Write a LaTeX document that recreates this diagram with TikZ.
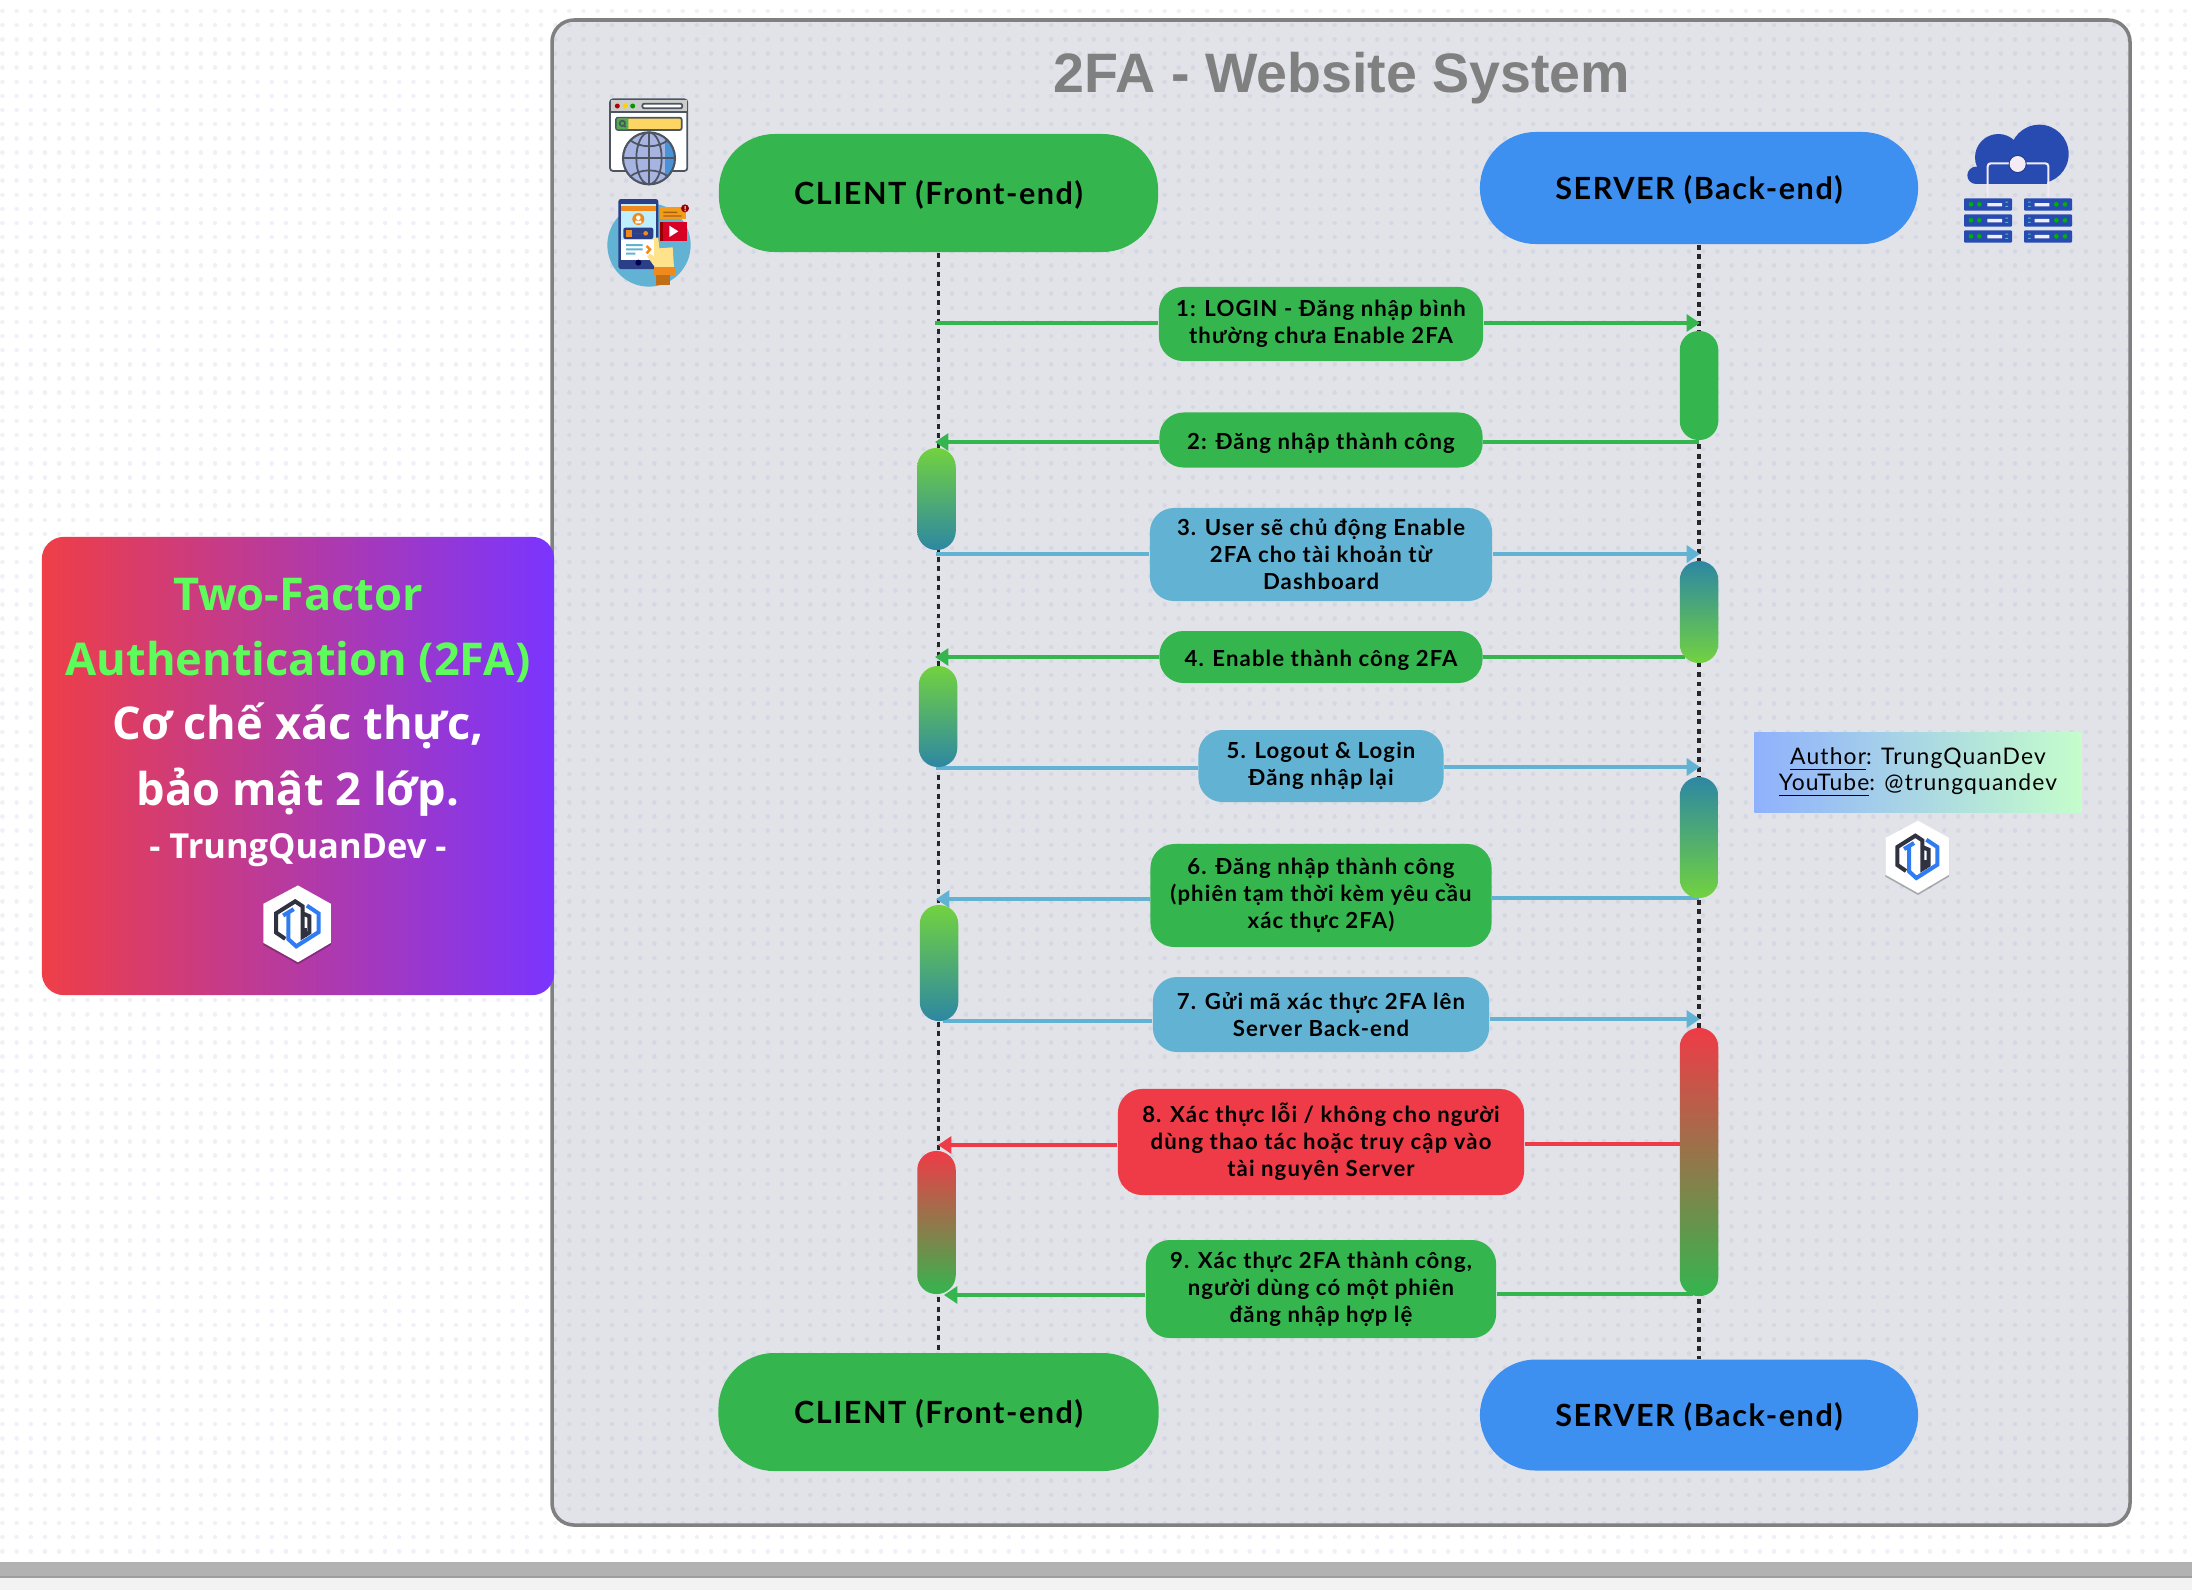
\documentclass[tikz,border=0pt]{standalone}
\usepackage{fontspec}
\setmainfont{Open Sans}
\newfontfamily\lblfont[LetterSpace=5]{Lato}
\newfontfamily\titlefont{Liberation Sans}
\usetikzlibrary{arrows.meta, calc}

\definecolor{frameFill}{HTML}{E1E3E8}
\definecolor{frameLine}{HTML}{808080}
\definecolor{dotBlue}{RGB}{120,130,190}
\definecolor{boxGreen}{HTML}{34B54E}
\definecolor{boxBlue}{HTML}{62B3D3}
\definecolor{boxRed}{HTML}{EF3B47}
\definecolor{boxServer}{HTML}{3D8FF0}
\definecolor{barLime}{HTML}{72D23F}
\definecolor{barTeal}{HTML}{2D87A3}
\definecolor{panelRed}{HTML}{EF3E47}
\definecolor{panelViolet}{HTML}{7A35FF}
\definecolor{panelGreen}{HTML}{5DFC5B}
\definecolor{authorBlue}{HTML}{8FB1FD}
\definecolor{authorGreen}{HTML}{C5FDCB}
\definecolor{iconInk}{HTML}{4C5560}
\definecolor{cloudBlue}{HTML}{274BB0}
\definecolor{logoDark}{HTML}{30323F}
\definecolor{logoBlue}{HTML}{2F7BF2}
\definecolor{phoneNavy}{HTML}{2B3F88}
\definecolor{handOrange}{HTML}{F08A1D}

\tikzset{
  pillBox/.style = {rounded corners=0.56cm, inner sep=0, align=center, text=black, text height=8.6pt, text depth=2pt,
    font=\lblfont\bfseries\fontsize{8.7}{11}\selectfont},
  lblBox/.style = {rounded corners=0.24cm, inner sep=0, align=center, text=black,
    execute at begin node={\rule{0pt}{6.6pt}},
    font=\lblfont\bfseries\fontsize{6.3}{7.7}\selectfont},
  barBox/.style = {rounded corners=0.19cm, inner sep=0, minimum width=0.385cm},
  lifeLine/.style = {line width=1pt, black!85, dash pattern=on 1.4pt off 1.3pt},
  flow/.style = {line width=1.4pt},
  flowHead/.style = {flow, -{Triangle[length=3.8pt,width=4.8pt]}},
  panelText/.style = {inner sep=0, font=\bfseries\fontsize{12.85}{16}\selectfont, text=white},
  dotRow/.style = {dotBlue, opacity=.11, line width=0.045cm, line cap=round, dash pattern=on 0.01pt off 0.1413cm},
  tqLogo/.pic = {
    \fill[black, opacity=.25] (0,-105) -- (93,-53) -- (93,59) -- (0,114) -- (-98,59) -- (-98,-53) -- cycle;
    \fill[white] (0,-109) -- (93,-57) -- (93,53) -- (0,108) -- (-98,53) -- (-98,-57) -- cycle;
    \draw[logoDark, line width=1.15pt, line join=miter] (-36,42) -- (-62,24) -- (-62,-30) -- (-8,-64) -- (13,-50) -- (13,36) -- (32,24) -- (32,-22) -- (13,-30);
    \draw[logoDark, line width=.8pt] (22,10) -- (22,36);
    \draw[logoBlue, line width=1.15pt, line join=miter] (-42,-24) -- (-12,-42);
    \draw[logoBlue, line width=1.15pt, line join=miter] (-27,-33) -- (-27,43) -- (-5,63) -- (58,23) -- (58,-30) -- (25,-52);
  }
}

\begin{document}
\begin{tikzpicture}[x=0.01cm, y=-0.01cm]
  \useasboundingbox (0,0) rectangle (2192,1590);
  \fill[white] (0,0) rectangle (2192,1590);

  % frame and dotted paper
  \fill[frameFill, rounded corners=0.22cm] (552,20) rectangle (2130,1525);
  \foreach \row in {0,...,109}
    \draw[dotRow] (2.4,{11.1+14.13*\row}) -- (2192,{11.1+14.13*\row});
  \draw[frameLine, line width=1pt, rounded corners=0.22cm] (552,20) rectangle (2130,1525);

  % window edge at the bottom
  \fill[black!30] (0,1562) rectangle (2192,1576);
  \fill[black!38] (0,1576) rectangle (2192,1578);
  \fill[black!5!white] (0,1578) rectangle (2192,1590);

  \node[text=frameLine, font=\titlefont\bfseries\fontsize{15.8}{20}\selectfont, inner sep=0] (titleText) at (1342,78) {2FA - Website System};

  % left panel
  \node[left color=panelRed, right color=panelViolet, rounded corners=0.22cm, minimum width=5.12cm, minimum height=4.58cm, inner sep=0] (introPanel) at (298,766) {};
  \node[panelText, text=panelGreen] (introA) at (298,595) {Two-Factor};
  \node[panelText, text=panelGreen] (introB) at (298,662) {Authentication (2FA)};
  \node[panelText] (introC) at (298,726) {Cơ chế xác thực,};
  \node[panelText] (introD) at (298,792) {bảo mật 2 lớp.};
  \node[panelText, font=\bfseries\fontsize{9.8}{12}\selectfont] (introE) at (298,850) {- TrungQuanDev -};
  \pic[scale=.354] (logoPanel) at (298,924) {tqLogo};

  % author tag
  \node[left color=authorBlue, right color=authorGreen, minimum width=3.27cm, minimum height=0.79cm, inner sep=0, align=center,
        execute at begin node={\rule{0pt}{8pt}},
        font=\lblfont\fontsize{6.5}{7.5}\selectfont] (authorTag) at (1918,772.5)
        {\underline{Author}: TrungQuanDev\\\underline{YouTube}: @trungquandev};
  \pic[scale=.3333] (logoTag) at (1918,857) {tqLogo};

  % lifelines
  \node[pillBox, fill=boxGreen, minimum width=4.39cm, minimum height=1.18cm] (clientTop) at (938.5,193) {CLIENT (Front-end)};
  \node[pillBox, fill=boxServer, minimum width=4.38cm, minimum height=1.12cm] (serverTop) at (1699,188) {SERVER (Back-end)};
  \node[pillBox, fill=boxGreen, minimum width=4.40cm, minimum height=1.18cm] (clientBot) at (938.5,1412) {CLIENT (Front-end)};
  \node[pillBox, fill=boxServer, minimum width=4.38cm, minimum height=1.11cm] (serverBot) at (1699,1415) {SERVER (Back-end)};
  \draw[lifeLine] (clientTop.south) -- (clientBot.north);
  \draw[lifeLine] (serverTop.south) -- (serverBot.north);

  % message labels
  \node[lblBox, fill=boxGreen, minimum width=3.24cm, minimum height=0.74cm] (lblA) at (1321,324) {1: LOGIN - Đăng nhập bình\\thường chưa Enable 2FA};
  \node[lblBox, fill=boxGreen, minimum width=3.23cm, minimum height=0.55cm] (lblB) at (1321,440) {2: Đăng nhập thành công};
  \node[lblBox, fill=boxBlue, minimum width=3.42cm, minimum height=0.93cm] (lblC) at (1321,554.5) {3. User sẽ chủ động Enable\\2FA cho tài khoản từ\\Dashboard};
  \node[lblBox, fill=boxGreen, minimum width=3.23cm, minimum height=0.52cm] (lblD) at (1321,657) {4. Enable thành công 2FA};
  \node[lblBox, fill=boxBlue, minimum width=2.45cm, minimum height=0.72cm] (lblE) at (1321,766) {5. Logout \& Login\\Đăng nhập lại};
  \node[lblBox, fill=boxGreen, minimum width=3.41cm, minimum height=1.03cm] (lblF) at (1321,895.5) {6. Đăng nhập thành công\\(phiên tạm thời kèm yêu cầu\\xác thực 2FA)};
  \node[lblBox, fill=boxBlue, minimum width=3.36cm, minimum height=0.75cm] (lblG) at (1321,1014.5) {7. Gửi mã xác thực 2FA lên\\Server Back-end};
  \node[lblBox, fill=boxRed, minimum width=4.06cm, minimum height=1.06cm] (lblH) at (1321,1142) {8. Xác thực lỗi / không cho người\\dùng thao tác hoặc truy cập vào\\tài nguyên Server};
  \node[lblBox, fill=boxGreen, minimum width=3.50cm, minimum height=0.98cm] (lblI) at (1321,1289) {9. Xác thực 2FA thành công,\\người dùng có một phiên\\đăng nhập hợp lệ};

  % arrow ends
  \coordinate (clA) at (935,323);    \coordinate (svA) at (1700,323);
  \coordinate (clB) at (935,442);    \coordinate (svB) at (1699,442);
  \coordinate (clC) at (936,554);    \coordinate (svC) at (1700,554);
  \coordinate (clD) at (935,657);    \coordinate (svD) at (1685,657);
  \coordinate (clE) at (936,768);    \coordinate (svE) at (1700,767);
  \coordinate (clF) at (936,899);    \coordinate (svF) at (1699,898);
  \coordinate (clG) at (943,1021);   \coordinate (svG) at (1700,1019);
  \coordinate (clH) at (938,1145);   \coordinate (svH) at (1685,1144);
  \coordinate (clI) at (944,1295);   \coordinate (svI) at (1693,1294);

  \draw[flow, boxGreen] (clA) -- (clA -| lblA.west);
  \draw[flowHead, boxGreen] (svA -| lblA.east) -- (svA);
  \draw[flowHead, boxGreen] (clB -| lblB.west) -- (clB);
  \draw[flow, boxGreen] (svB) -- (svB -| lblB.east);
  \draw[flow, boxBlue] (clC) -- (clC -| lblC.west);
  \draw[flowHead, boxBlue] (svC -| lblC.east) -- (svC);
  \draw[flowHead, boxGreen] (clD -| lblD.west) -- (clD);
  \draw[flow, boxGreen] (svD) -- (svD -| lblD.east);
  \draw[flow, boxBlue] (clE) -- (clE -| lblE.west);
  \draw[flowHead, boxBlue] (svE -| lblE.east) -- (svE);
  \draw[flowHead, boxBlue] (clF -| lblF.west) -- (clF);
  \draw[flow, boxBlue] (svF) -- (svF -| lblF.east);
  \draw[flow, boxBlue] (clG) -- (clG -| lblG.west);
  \draw[flowHead, boxBlue] (svG -| lblG.east) -- (svG);
  \draw[flowHead, boxRed] (clH -| lblH.west) -- (clH);
  \draw[flow, boxRed] (svH) -- (svH -| lblH.east);
  \draw[flowHead, boxGreen] (clI -| lblI.west) -- (clI);
  \draw[flow, boxGreen] (svI) -- (svI -| lblI.east);

  % activation bars
  \node[barBox, fill=boxGreen, minimum height=1.09cm] (barA) at (1699,385.5) {};
  \node[barBox, top color=barLime, bottom color=barTeal, minimum height=1.02cm] (barB) at (936.5,499) {};
  \node[barBox, top color=barTeal, bottom color=barLime, minimum height=1.02cm] (barC) at (1699,612) {};
  \node[barBox, top color=barLime, bottom color=barTeal, minimum height=1.01cm] (barD) at (938,716.5) {};
  \node[barBox, top color=barTeal, bottom color=barLime, minimum height=1.21cm] (barE) at (1699,837.5) {};
  \node[barBox, top color=barLime, bottom color=barTeal, minimum height=1.16cm] (barF) at (939,963) {};
  \node[barBox, top color=boxRed, bottom color=boxGreen, minimum height=2.68cm] (barG) at (1699,1162) {};
  \node[barBox, top color=boxRed, bottom color=boxGreen, minimum height=1.43cm] (barH) at (936.5,1222.5) {};

  % browser icon
  \begin{scope}[shift={(600,90)}, scale=.3333]
    \draw[iconInk, fill=white, line width=.5pt, rounded corners=0.03cm] (30,28) rectangle (262,243);
    \fill[black!20] (32,30) rectangle (260,65);
    \draw[iconInk, line width=.5pt] (30,66) -- (262,66);
    \fill[red!70!black] (52,48) circle (7.5);
    \fill[yellow!70!orange] (75,48) circle (7.5);
    \fill[green!60!black] (98,48) circle (7.5);
    \draw[iconInk, fill=white, line width=.5pt, rounded corners=0.02cm] (127,41) rectangle (247,55);
    \draw[iconInk, fill=yellow!50!orange!60, line width=.5pt, rounded corners=0.02cm] (48,83) rectangle (245,120);
    \fill[green!55!black!70, rounded corners=0.01cm] (50,85) rectangle (85,118);
    \draw[iconInk, line width=.5pt] (67,100) circle (8) (70,104) -- (77,111);
    \fill[cyan!35!blue!35] (147,205) circle (78);
    \fill[cyan!60!blue!75] (195,145) arc (-50:50:78) -- cycle;
    \draw[iconInk, line width=.6pt] (147,205) circle (78);
    \draw[iconInk, line width=.5pt] (147,205) ellipse (38 and 78);
    \draw[iconInk, line width=.5pt] (147,127) -- (147,283) (69,205) -- (225,205);
    \draw[iconInk, line width=.5pt] (90,150) .. controls (120,175) and (175,175) .. (204,150);
    \draw[iconInk, line width=.5pt] (90,260) .. controls (120,235) and (175,235) .. (204,260);
  \end{scope}

  % phone icon
  \begin{scope}[shift={(600,190)}, scale=.3333]
    \fill[boxBlue] (147,165) circle (125);
    \fill[phoneNavy, rounded corners=0.025cm] (55,27) rectangle (175,237);
    \fill[blue!25!cyan!25] (63,43) rectangle (167,150);
    \fill[white] (63,150) rectangle (167,210);
    \fill[handOrange] (63,47) rectangle (167,63);
    \fill[handOrange] (115,87) circle (18);
    \fill[white] (115,83) circle (7) (106,100) rectangle (124,92);
    \fill[phoneNavy, rounded corners=0.02cm] (70,113) rectangle (160,147);
    \fill[handOrange] (78,120) rectangle (97,140);
    \fill[black!70] (103,128) rectangle (132,133);
    \fill[handOrange] (137,130) circle (7);
    \fill[boxBlue] (78,162) rectangle (128,168) (78,175) rectangle (128,181) (78,188) rectangle (106,194);
    \fill[black!70!blue] (115,218) circle (9);
    \fill[handOrange!85!yellow] (180,52) rectangle (258,88);
    \fill[handOrange!70!black] (190,65) rectangle (232,69) (190,76) rectangle (245,80);
    \fill[red!60!black] (255,55) circle (12);
    \fill[white] (254,48) rectangle (257,58) (254,60) rectangle (257,63);
    \fill[red!85!blue] (180,95) rectangle (260,153);
    \fill[red!60!black] (180,95) rectangle (190,153);
    \fill[white] (208,107) -- (235,124) -- (208,141) -- cycle;
    \fill[orange!50!yellow!45] (162,143) -- (175,143) -- (178,175) -- (218,172) -- (222,232) -- (165,232) -- (142,200) -- (150,190) -- (162,200) -- cycle;
    \draw[handOrange, line width=.7pt] (140,168) -- (150,178) -- (140,190);
    \fill[handOrange!80!black] (168,255) rectangle (210,286);
    \fill[handOrange] (162,232) rectangle (225,255);
  \end{scope}

  % cloud and racks
  \begin{scope}[shift={(1850,100)}, scale=.3333]
    \fill[cloudBlue] (445,172) circle (70);
    \fill[cloudBlue] (568,162) circle (88);
    \fill[cloudBlue] (378,226) circle (26);
    \fill[cloudBlue] (378,200) rectangle (590,252);
    \draw[black!5!violet!8, line width=.6pt, rounded corners=0.03cm] (413,292) -- (413,190) -- (595,190) -- (595,292);
    \fill[cloudBlue!80!black] (503,192) circle (27);
    \fill[black!5!violet!8] (503,192) circle (24);
    \foreach \rowy in {295,343,391} {
      \fill[cloudBlue, rounded corners=0.01cm] (342,\rowy) rectangle ++(144,37);
      \fill[cloudBlue, rounded corners=0.01cm] (522,\rowy) rectangle ++(144,37);
      \fill[green!70!black] (363,\rowy+18) circle (7) (388,\rowy+18) circle (7) (619,\rowy+18) circle (7) (645,\rowy+18) circle (7);
      \fill[black!5!violet!8] (412,\rowy+14) rectangle ++(44,10) (554,\rowy+14) rectangle ++(44,10);
      \fill[boxBlue] (466,\rowy+10) rectangle ++(8,3) (466,\rowy+23) rectangle ++(8,3) (534,\rowy+10) rectangle ++(8,3) (534,\rowy+23) rectangle ++(8,3);
    }
  \end{scope}
\end{tikzpicture}
\end{document}
